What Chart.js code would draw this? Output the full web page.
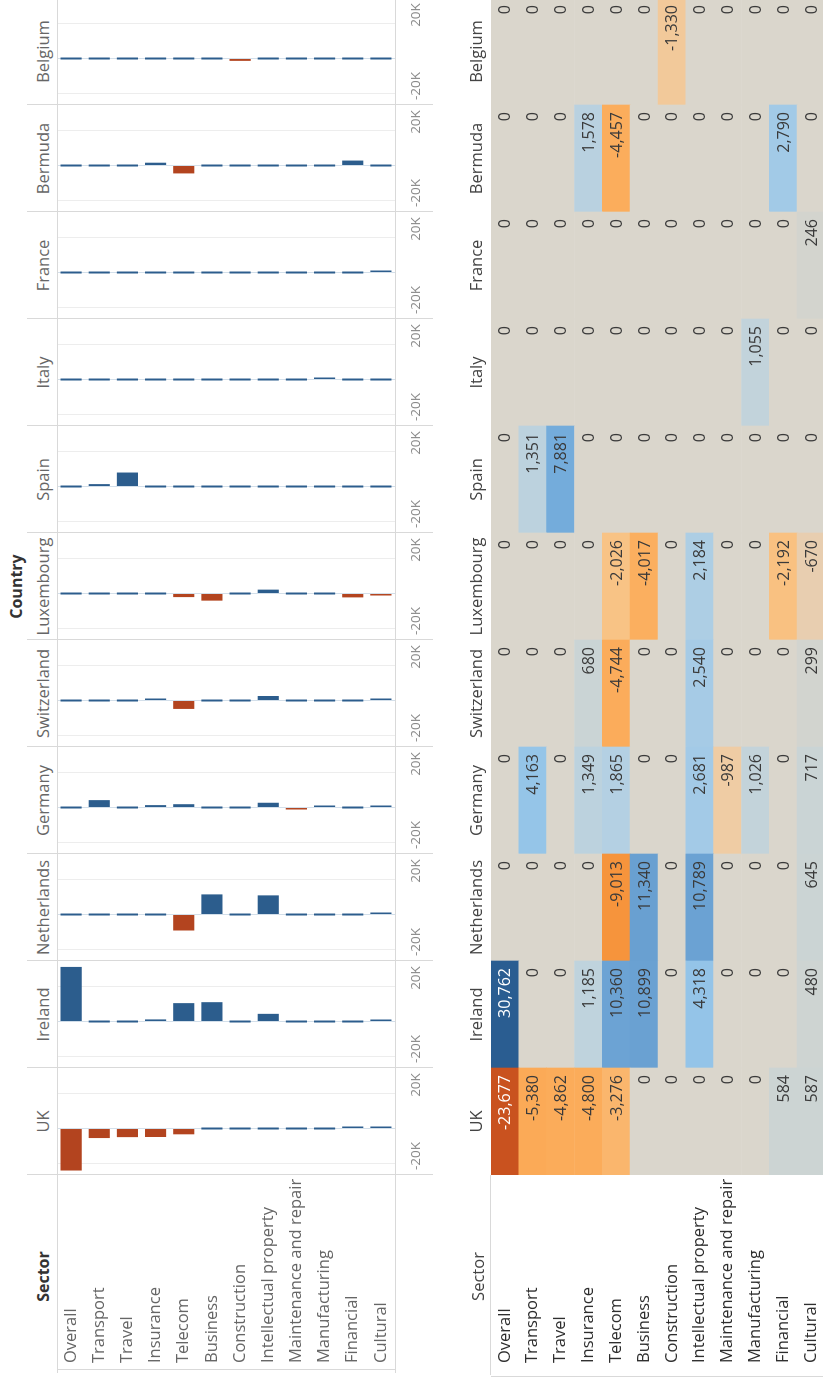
<!DOCTYPE html>
<html><head><meta charset="utf-8">
<script src="https://cdn.jsdelivr.net/npm/chart.js@4.4.1/dist/chart.umd.min.js"></script>
<style>
html,body{margin:0;padding:0;background:#fff;}
body{width:823px;height:1378px;overflow:hidden;position:relative;font-family:"Open Sans","Noto Sans",sans-serif;}
#root{position:absolute;left:0;top:0;width:1378px;height:823px;transform-origin:0 0;transform:translate(0,1378px) rotate(-90deg);overflow:hidden;background:#fff;}
.hl{position:absolute;height:1px;background:#d9d9d9;}
.vl{position:absolute;width:1px;background:#d9d9d9;}
.hdr{position:absolute;font-size:16.5px;color:#555;text-align:center;line-height:20px;white-space:nowrap;}
canvas{position:absolute;}
</style></head><body><div id="root"></div>
<script>
// ---------------- data ----------------
const sectors = ['Overall','Transport','Travel','Insurance','Telecom','Business','Construction','Intellectual property','Maintenance and repair','Manufacturing','Financial','Cultural'];
const countries = ['UK','Ireland','Netherlands','Germany','Switzerland','Luxembourg','Spain','Italy','France','Bermuda','Belgium'];
const ukValues          = [-23677, -5380, -4862, -4800, -3276, 0, 0, 0, 0, 0, 584, 587];
const irelandValues     = [30762, 0, 0, 1185, 10360, 10899, 0, 4318, 0, 0, 0, 480];
const netherlandsValues = [0, 0, 0, 0, -9013, 11340, 0, 10789, 0, 0, 0, 645];
const germanyValues     = [0, 4163, 0, 1349, 1865, 0, 0, 2681, -987, 1026, 0, 717];
const switzerlandValues = [0, 0, 0, 680, -4744, 0, 0, 2540, 0, 0, 0, 299];
const luxembourgValues  = [0, 0, 0, 0, -2026, -4017, 0, 2184, 0, 0, -2192, -670];
const spainValues       = [0, 1351, 7881, 0, 0, 0, 0, 0, 0, 0, 0, 0];
const italyValues       = [0, 0, 0, 0, 0, 0, 0, 0, 0, 1055, 0, 0];
const franceValues      = [0, 0, 0, 0, 0, 0, 0, 0, 0, 0, 0, 246];
const bermudaValues     = [0, 0, 0, 1578, -4457, 0, 0, 0, 0, 0, 2790, 0];
const belgiumValues     = [0, 0, 0, 0, 0, 0, -1330, 0, 0, 0, 0, 0];
const seriesValues = [ukValues, irelandValues, netherlandsValues, germanyValues, switzerlandValues, luxembourgValues, spainValues, italyValues, franceValues, bermudaValues, belgiumValues];
const axisTickValues = [-20000, 0, 20000];
const axisMin = -26200, axisMax = 34100;

// ---------------- styling ----------------
const FONT = '"Open Sans","Noto Sans",sans-serif';
const POS = '#2c5d8d', NEG = '#b3441f';
const NEG_STOPS = [[0,'#dad6cc'],[600,'#e6cfb3'],[1000,'#efcca4'],[1400,'#f3c898'],[2100,'#f9c283'],[4000,'#fbaf5f'],[5400,'#fbaa57'],[9000,'#f6943c'],[23677,'#c9521f']];
const POS_STOPS = [[0,'#dad6cc'],[250,'#d3d4ce'],[700,'#cad4d5'],[1200,'#bfd3dd'],[1900,'#b3d0e3'],[2700,'#a3cae7'],[4300,'#94c4e8'],[7900,'#74acdb'],[11000,'#6aa1d2'],[30762,'#2a5d91']];
const L = {sectorW:203, colW:107, hdrTop:27, barTop:57, barBottom:395, axisBottom:433, tableTop:445, tableBodyTop:491, tableBottom:825};

function hexToRgb(h){return [parseInt(h.slice(1,3),16),parseInt(h.slice(3,5),16),parseInt(h.slice(5,7),16)];}
function ramp(stops,a){
  for(let i=1;i<stops.length;i++){
    if(a<=stops[i][0]){
      const [a0,c0]=stops[i-1],[a1,c1]=stops[i];
      const t=(a-a0)/(a1-a0), p=hexToRgb(c0), q=hexToRgb(c1);
      return 'rgb('+p.map((x,j)=>Math.round(x+(q[j]-x)*t)).join(',')+')';
    }
  }
  return stops[stops.length-1][1];
}
function cellColor(v){return v<0?ramp(NEG_STOPS,-v):ramp(POS_STOPS,v);}
const fmt = v => v.toLocaleString('en-US');

const root = document.getElementById('root');
function add(tag, cls, style, text){
  const e=document.createElement(tag); if(cls) e.className=cls;
  Object.assign(e.style, style); if(text!==undefined) e.textContent=text;
  root.appendChild(e); return e;
}
function canvas(left, top, w, h){
  const c=add('canvas',null,{left:left+'px',top:top+'px'}); c.width=w; c.height=h; return c;
}

// ---------------- bar panels ----------------
seriesValues.forEach((vals,k)=>{
  const first = k===0;
  const left = first ? 0 : L.sectorW + k*L.colW;
  const w = first ? L.sectorW + L.colW : L.colW;
  const c = canvas(left, L.barTop, w, L.axisBottom - L.barTop);
  const yScale = {
    display:first,
    grid:{display:false, drawTicks:false}, border:{display:false},
    ticks:{crossAlign:'far', color:'#666', font:{family:FONT, size:16.5}, padding:0, autoSkip:false}
  };
  if(first) yScale.afterFit = a => { a.width = L.sectorW - 15; a.paddingTop = 0; a.paddingBottom = 0; };
  new Chart(c, {
    type:'bar',
    data:{labels:sectors, datasets:[{
      data:vals,
      backgroundColor: ctx => (ctx.raw < 0 ? NEG : POS),
      barPercentage:0.75, categoryPercentage:1, minBarLength:2, borderWidth:0
    }]},
    options:{
      indexAxis:'y', responsive:false, animation:false, devicePixelRatio:1,
      layout:{autoPadding:false, padding: first ? {left:15, right:0, top:0, bottom:0} : 0},
      plugins:{legend:{display:false}, tooltip:{enabled:false}},
      scales:{
        x:{
          min:axisMin, max:axisMax,
          afterBuildTicks: a => { a.ticks = axisTickValues.map(v=>({value:v})); },
          grid:{drawTicks:false, color: c => (c.tick && c.tick.value===0 ? '#d3dfea' : '#ededed'), lineWidth:1},
          border:{display:false},
          ticks:{callback: v => (v===0 ? '' : (v/1000)+'K'), color:'#8a8a8a', font:{family:FONT, size:13.5}, padding:13, labelOffset:8, maxRotation:0, autoSkip:false},
          afterFit: a => { a.height = L.axisBottom - L.barBottom; a.paddingLeft = 0; a.paddingRight = 0; }
        },
        y: yScale
      }
    }
  });
});

// ---------------- table (heat map) ----------------
const cellText = {
  id:'cellText',
  afterDatasetsDraw(chart){
    const ctx=chart.ctx; ctx.save();
    ctx.font='16px '+FONT; ctx.textAlign='right'; ctx.textBaseline='middle';
    chart.data.datasets.forEach((ds,k)=>{
      chart.getDatasetMeta(k).data.forEach((el,j)=>{
        const v=ds.values[j];
        ctx.fillStyle = Math.abs(v)>15000 ? '#ffffff' : '#3a3a3a';
        ctx.fillText(fmt(v), el.x-7, el.y+1);
      });
    });
    ctx.restore();
  }
};
const tc = canvas(0, L.tableTop, L.sectorW + countries.length*L.colW, L.tableBottom - L.tableTop);
new Chart(tc, {
  type:'bar',
  data:{labels:sectors, datasets: seriesValues.map((vals,k)=>({
    label:countries[k], values:vals, data:vals.map(()=>1),
    backgroundColor: vals.map(cellColor), barPercentage:1, categoryPercentage:1, borderWidth:0
  }))},
  options:{
    indexAxis:'y', responsive:false, animation:false, devicePixelRatio:1,
    layout:{autoPadding:false, padding:{left:15, right:0, top:0, bottom:0}},
    plugins:{legend:{display:false}, tooltip:{enabled:false}},
    scales:{
      x:{stacked:true, display:false, min:0, max:countries.length},
      x2:{type:'category', axis:'x', labels:countries, position:'top', offset:true,
          grid:{display:false, drawTicks:false}, border:{display:false},
          ticks:{color:'#444', font:{family:FONT, size:16.5}, padding:4, maxRotation:0, autoSkip:false},
          afterFit: a => { a.height = L.tableBodyTop - L.tableTop; a.paddingLeft = 0; a.paddingRight = 0; }},
      y:{stacked:true, grid:{display:false, drawTicks:false}, border:{display:false},
         ticks:{crossAlign:'far', color:'#2e2e2e', font:{family:FONT, size:16.5}, padding:0, autoSkip:false},
         afterFit: a => { a.width = L.sectorW - 15; a.paddingTop = 0; a.paddingBottom = 0; }}
    }
  },
  plugins:[cellText]
});

// ---------------- headers & rules ----------------
add('div','hdr',{left:(L.sectorW)+'px', width:(countries.length*L.colW)+'px', top:'6px', fontWeight:'700', color:'#333', fontSize:'16px'}, 'Country');
add('div','hdr',{left:'0px', width:L.sectorW+'px', top:'33px', fontWeight:'700', color:'#333', fontSize:'16px'}, 'Sector');
countries.forEach((c,k)=>{
  add('div','hdr',{left:(L.sectorW+k*L.colW)+'px', width:L.colW+'px', top:'33px', color:'#666'}, c);
});
add('div','hdr',{left:'0px', width:L.sectorW+'px', top:'468px', color:'#444'}, 'Sector');

add('div','hl',{left:'5px', width:'1373px', top:L.barTop+'px'});
add('div','hl',{left:'5px', width:'1373px', top:L.barBottom+'px'});
add('div','hl',{left:'3px', width:(L.sectorW-3)+'px', top:(L.tableBodyTop-1)+'px'});
add('div','vl',{left:'8px', top:L.barTop+'px', height:(L.barBottom-L.barTop)+'px'});
add('div','vl',{left:'1px', top:L.tableBodyTop+'px', height:(L.tableBottom-L.tableBodyTop)+'px'});
for(let k=0;k<countries.length;k++){
  add('div','vl',{left:(L.sectorW+k*L.colW)+'px', top:L.hdrTop+'px', height:(L.axisBottom-L.hdrTop)+'px'});
}
</script></body></html>
